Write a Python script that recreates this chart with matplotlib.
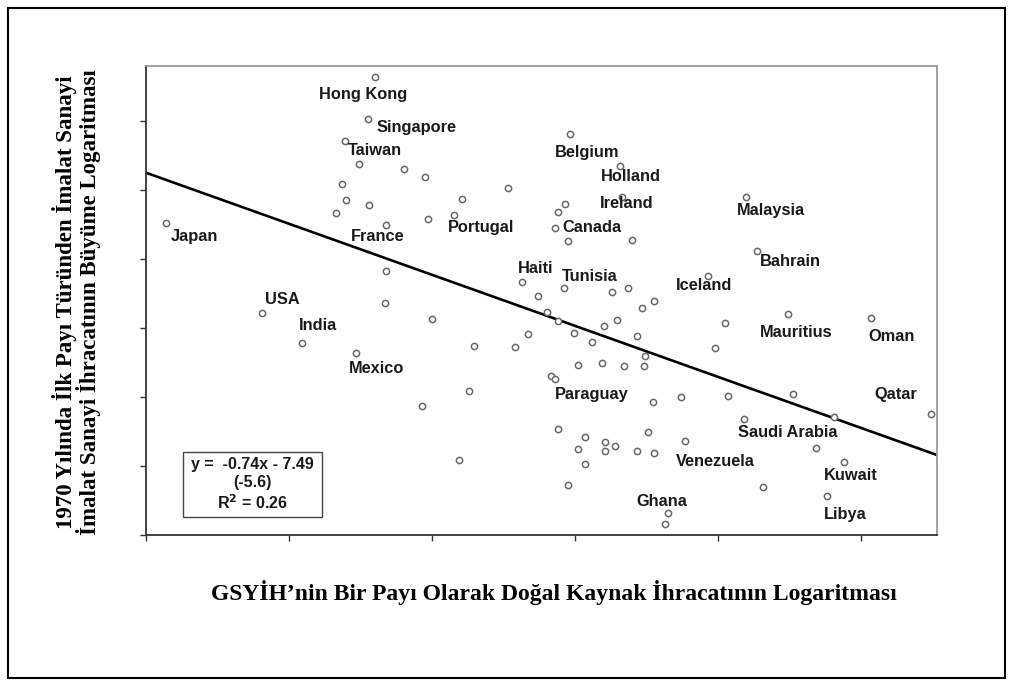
import matplotlib
matplotlib.use('Agg')
import matplotlib.pyplot as plt
from matplotlib.patches import Rectangle

# scatter points (x: log resource exports share, y: log manufacturing export growth)
x_vals = [0.60, 0.55, 0.39, -0.86, 0.49, 0.80, 0.95, 0.37, 0.40, 0.56,
          0.33, 1.21, 1.15, 0.97, 0.68, 0.68, 0.67, 1.00, -0.19, 0.09,
          0.47, 1.29, 1.58, 1.67, 1.26, 0.93, 1.19, 1.53, 1.96, 2.31,
          2.33, 1.93, 1.88, 1.86, 1.95, 2.40, 3.19, 3.27, 2.93, 1.63,
          1.92, 2.26, 2.37, 1.74, 2.55, 2.47, 1.80, 1.88, 2.29, 2.20,
          3.05, 3.49, 4.07, 1.99, 2.43, 2.12, 2.49, 2.98, 2.02, 2.19,
          2.34, 2.48, 1.83, 1.86, 2.54, 2.74, 3.07, 3.52, 3.18, 3.81,
          4.49, 1.88, 2.07, 2.51, 2.77, 2.21, 2.28, 2.02, 2.21, 2.43,
          2.55, 2.07, 3.68, 3.88, 1.95, 3.31, 3.76, 2.65, 2.63]
y_vals = [-5.36, -5.97, -6.29, -7.48, -6.62, -6.70, -6.81, -6.91, -7.14, -7.22,
          -7.33, -7.13, -7.36, -7.42, -7.51, -8.17, -8.64, -8.87, -8.78, -9.22,
          -9.36, -9.26, -9.28, -9.09, -9.91, -10.13, -10.91, -6.97, -6.19, -6.65,
          -7.10, -7.20, -7.32, -7.55, -7.74, -7.72, -7.10, -7.88, -8.25, -8.33,
          -8.42, -8.48, -8.42, -8.54, -8.61, -8.71, -8.77, -8.90, -8.88, -8.97,
          -8.93, -8.80, -8.86, -9.07, -9.12, -9.20, -9.41, -9.29, -9.54, -9.51,
          -9.55, -9.55, -9.70, -9.74, -10.07, -10.00, -9.99, -9.96, -10.32, -10.29,
          -10.25, -10.46, -10.58, -10.51, -10.64, -10.65, -10.71, -10.75, -10.78, -10.78,
          -10.81, -10.97, -10.74, -10.94, -11.28, -11.30, -11.43, -11.68, -11.84]

# country labels (text anchor, left aligned)
countries = ['Hong Kong', 'Singapore', 'Taiwan', 'Japan', 'France', 'Portugal',
             'Belgium', 'Holland', 'Ireland', 'Canada', 'Malaysia', 'Bahrain',
             'Haiti', 'Tunisia', 'Iceland', 'Mauritius', 'Oman', 'USA', 'India',
             'Mexico', 'Paraguay', 'Qatar', 'Saudi Arabia', 'Venezuela',
             'Kuwait', 'Ghana', 'Libya']
label_x = [0.21, 0.61, 0.41, -0.83, 0.43, 1.11, 1.86, 2.18, 2.17, 1.91, 3.13, 3.29,
           1.60, 1.91, 2.70, 3.29, 4.05, -0.17, 0.07, 0.42, 1.86, 4.09, 3.14, 2.70,
           3.74, 2.43, 3.74]
label_y = [-5.61, -6.10, -6.43, -7.67, -7.67, -7.54, -6.46, -6.81, -7.20, -7.54,
           -7.29, -8.04, -8.14, -8.25, -8.39, -9.06, -9.12, -8.59, -8.97, -9.59,
           -9.97, -9.97, -10.52, -10.93, -11.14, -11.51, -11.70]

# fitted line y = slope*x + intercept
slope = -0.74
intercept = -7.49
eq_lines = ['y =  -0.74x - 7.49', '(-5.6)', r'R$^\mathbf{2}$ = 0.26']

ylabel_1 = '1970 Yılında İlk Payı Türünden İmalat Sanayi'
ylabel_2 = 'İmalat Sanayi İhracatının Büyüme Logaritması'
xlabel = 'GSYİH’nin Bir Payı Olarak Doğal Kaynak İhracatının Logaritması'

fig = plt.figure(figsize=(10.14, 6.86), dpi=100)
ax = fig.add_axes([0.144, 0.2201, 0.780, 0.6837])

xlim = (-1, 4.528)
ylim = (-12, -5.203)

ax.plot(x_vals, y_vals, 'o', ms=4.5, mfc='white', mec='#686868', mew=1.1,
        linestyle='none', zorder=3)
ax.plot(list(xlim), [slope * v + intercept for v in xlim], color='black', lw=1.9, zorder=2)

for name, lx, ly in zip(countries, label_x, label_y):
    ax.text(lx, ly, name, fontsize=11.8, fontweight='bold', family='Liberation Sans',
            color='#1a1a1a', ha='left', va='center', zorder=4)

# equation box
ax.add_patch(Rectangle((0.0468, 0.0384), 0.1757, 0.1386, transform=ax.transAxes,
                       fill=False, edgecolor='#444444', lw=1.0, zorder=5))
for txt, ty in zip(eq_lines, [0.151, 0.111, 0.070]):
    ax.text(0.134, ty, txt, transform=ax.transAxes, fontsize=11.5, fontweight='bold',
            family='Liberation Sans', ha='center', va='center', color='#1a1a1a')

ax.set_xlim(*xlim)
ax.set_ylim(*ylim)
ax.set_xticks(range(-1, 5))
ax.set_yticks(range(-12, -5))
ax.set_xticklabels([])
ax.set_yticklabels([])
ax.tick_params(direction='out', length=4, width=1, color='#333333')
for side in ['left', 'bottom']:
    ax.spines[side].set_color('#333333')
    ax.spines[side].set_linewidth(1.3)
for side in ['top', 'right']:
    ax.spines[side].set_color('#9a9a9a')
    ax.spines[side].set_linewidth(1.3)

fig.text(0.064, 0.56, ylabel_1, rotation=90, ha='center', va='center',
         fontsize=16.5, fontweight='bold', family='Liberation Serif')
fig.text(0.087, 0.56, ylabel_2, rotation=90, ha='center', va='center',
         fontsize=16.5, fontweight='bold', family='Liberation Serif')
fig.text(0.546, 0.1356, xlabel, ha='center', va='center',
         fontsize=17, fontweight='bold', family='Liberation Serif')

# outer frame
fig.patches.append(Rectangle((0.008, 0.012), 0.983, 0.976, transform=fig.transFigure,
                             fill=False, edgecolor='black', lw=1.5))

fig.savefig('out.png', dpi=100)
